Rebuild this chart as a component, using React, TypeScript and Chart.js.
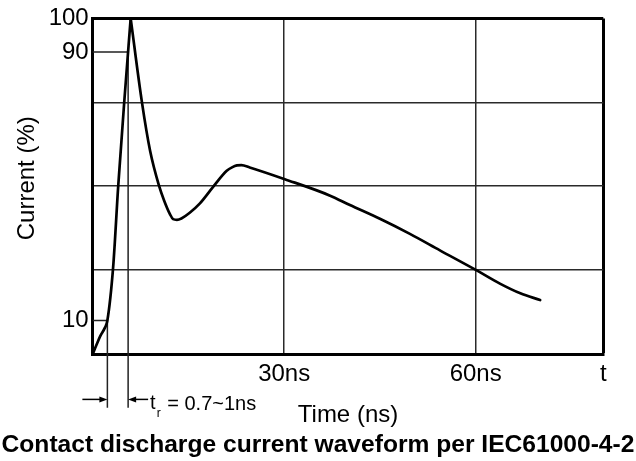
import React, { useEffect, useRef } from 'react';
import { Chart, registerables } from 'chart.js';

Chart.register(...registerables);

// ---- data ----
const timeNs = [0, 0.6, 1.2, 1.9, 2.3, 3.2, 4.0, 4.95, 5.95, 7.7, 9.0, 10.4, 11.2, 12.1, 12.6, 13.2, 13.9, 15.2, 16.8, 18.9, 21.0, 21.9, 22.6, 23.3, 24.6, 30.1, 37.2, 40.3, 45.0, 49.7, 54.4, 60.1, 63.8, 67.0, 70.1];
const currentPct = [0, 2.8, 5.4, 7.8, 10, 25.8, 50.1, 75.3, 100, 75.2, 60.5, 50.1, 45.7, 41.7, 40.2, 40.0, 40.4, 42.1, 44.9, 49.9, 54.6, 55.7, 56.2, 56.3, 55.6, 52.1, 47.2, 44.4, 40.3, 35.8, 30.9, 25.0, 21.0, 18.1, 16.1];

const yTickValues = [10, 90, 100];
const yTickLabels = ['10', '90', '100'];
const yGridValues = [25, 50, 75];
const xTickValues = [30, 60, 80];
const xTickLabels = ['30ns', '60ns', 't'];

// rise-time markers: level (%) and time (ns) where the front crosses it
const markerLevels = [10, 90];
const markerTimes = [2.3, 5.55];
const markerBottom = -16; // how far below the axis the marker lines reach (in %)
const arrowLevel = -13.5;

const chartTitle = 'Contact discharge current waveform per IEC61000-4-2';
const xTitle = 'Time (ns)';
const yTitle = 'Current (%)';
const riseLabelMain = 't';
const riseLabelSub = 'r';
const riseLabelRest = ' = 0.7~1ns';

const FONT = "'Liberation Sans', Arial, Helvetica, sans-serif";

const annotationPlugin = {
  id: 'iecAnnotations',
  afterDraw(chart: any) {
    const { ctx, chartArea, scales } = chart;
    const xs = scales.x;
    const ys = scales.y;
    ctx.save();
    // y axis title
    ctx.save();
    ctx.translate(33.5, (chartArea.top + chartArea.bottom) / 2 - 8);
    ctx.rotate(-Math.PI / 2);
    ctx.font = `24px ${FONT}`;
    ctx.fillStyle = '#000';
    ctx.textAlign = 'center';
    ctx.textBaseline = 'alphabetic';
    ctx.fillText(yTitle, 0, 0);
    ctx.restore();

    // arrows for rise time
    const ya = ys.getPixelForValue(arrowLevel);
    const x1 = xs.getPixelForValue(markerTimes[0]);
    const x2 = xs.getPixelForValue(markerTimes[1]);
    ctx.strokeStyle = '#000';
    ctx.fillStyle = '#000';
    ctx.lineWidth = 1.5;
    const arrow = (from: number, to: number) => {
      const dir = Math.sign(to - from);
      ctx.beginPath();
      ctx.moveTo(from, ya);
      ctx.lineTo(to - dir * 6, ya);
      ctx.stroke();
      ctx.beginPath();
      ctx.moveTo(to, ya);
      ctx.lineTo(to - dir * 8, ya - 3);
      ctx.lineTo(to - dir * 8, ya + 3);
      ctx.closePath();
      ctx.fill();
    };
    arrow(x1 - 25, x1);
    arrow(x2 + 20, x2);

    // label
    const tx = x2 + 22;
    const baseY = ya + 10;
    ctx.textAlign = 'left';
    ctx.textBaseline = 'alphabetic';
    ctx.font = `20px ${FONT}`;
    ctx.fillText(riseLabelMain, tx, baseY);
    const tw = ctx.measureText(riseLabelMain).width;
    ctx.font = `12px ${FONT}`;
    ctx.fillText(riseLabelSub, tx + tw + 1, baseY + 8);
    const rw = ctx.measureText(riseLabelSub).width;
    ctx.font = `20px ${FONT}`;
    ctx.fillText(riseLabelRest, tx + tw + rw + 2, baseY + 1);
    ctx.restore();
  },
};

export default function App() {
  const canvasRef = useRef<HTMLCanvasElement | null>(null);

  useEffect(() => {
    document.body.style.margin = '0';
    const canvas = canvasRef.current;
    if (!canvas) return;

    const curve = timeNs.map((t, i) => ({ x: t, y: currentPct[i] }));
    const peakIdx = currentPct.indexOf(Math.max(...currentPct));
    const rising = curve.slice(0, peakIdx + 1);
    const falling = curve.slice(peakIdx);

    const curveStyle = {
      borderColor: '#000',
      borderWidth: 2.7,
      pointRadius: 0,
      tension: 0,
      cubicInterpolationMode: 'monotone',
      fill: false,
      borderJoinStyle: 'round',
      borderCapStyle: 'round',
      order: 1,
    };

    const markerSets = markerLevels.map((lvl, i) => ({
      data: [
        { x: 0, y: lvl },
        { x: markerTimes[i], y: lvl },
        { x: markerTimes[i], y: markerBottom },
      ],
      borderColor: '#222',
      borderWidth: 1.5,
      pointRadius: 0,
      tension: 0,
      fill: false,
      clip: false as any,
      order: 2,
    }));

    const chart = new Chart(canvas, {
      type: 'line',
      data: {
        datasets: [
          { data: rising, ...curveStyle } as any,
          { data: falling, ...curveStyle } as any,
          ...markerSets,
        ],
      },
      options: {
        animation: false,
        responsive: false,
        devicePixelRatio: 1,
        layout: { padding: { left: 0, top: 16.5, right: 0, bottom: 0 } },
        font: { family: FONT },
        plugins: {
          legend: { display: false },
          tooltip: { enabled: false },
          title: {
            display: true,
            position: 'bottom',
            text: chartTitle,
            color: '#000',
            font: { family: FONT, size: 24.6, weight: 'bold' },
            padding: { top: 0, bottom: 1.4 },
          },
        },
        scales: {
          x: {
            type: 'linear',
            min: 0,
            max: 80,
            afterBuildTicks: (axis: any) => {
              axis.ticks = [0, ...xTickValues].map((v) => ({ value: v }));
            },
            afterFit: (scale: any) => {
              scale.height = 76;
            },
            ticks: {
              autoSkip: false,
              maxRotation: 0,
              padding: 6,
              color: '#000',
              font: { family: FONT, size: 24 },
              callback: (v: any) => {
                const i = xTickValues.indexOf(Number(v));
                return i >= 0 ? xTickLabels[i] : '';
              },
            },
            grid: {
              drawTicks: false,
              color: (c: any) => {
                const v = c.tick?.value;
                if (v === 80) return '#000';
                if (v === 30 || v === 60) return '#2a2a2a';
                return 'rgba(0,0,0,0)';
              },
              lineWidth: (c: any) => (c.tick?.value === 80 ? 3 : 1.5),
            },
            border: { display: true, color: '#000', width: 3 },
            title: {
              display: true,
              text: xTitle,
              color: '#000',
              font: { family: FONT, size: 24 },
              padding: { top: 0, bottom: 0 },
            },
          },
          y: {
            type: 'linear',
            min: 0,
            max: 100,
            afterBuildTicks: (axis: any) => {
              axis.ticks = [0, ...yGridValues, ...yTickValues]
                .sort((a, b) => a - b)
                .map((v) => ({ value: v }));
            },
            afterFit: (scale: any) => {
              scale.width = 92.7;
            },
            ticks: {
              autoSkip: false,
              padding: 4,
              color: '#000',
              font: { family: FONT, size: 24 },
              callback: (v: any) => {
                const i = yTickValues.indexOf(Number(v));
                return i >= 0 ? yTickLabels[i] : '';
              },
            },
            grid: {
              drawTicks: false,
              color: (c: any) => {
                const v = c.tick?.value;
                if (v === 100) return '#000';
                if (yGridValues.includes(v)) return '#2a2a2a';
                return 'rgba(0,0,0,0)';
              },
              lineWidth: (c: any) => (c.tick?.value === 100 ? 3 : 1.5),
            },
            border: { display: true, color: '#000', width: 3 },
          },
          yRight: {
            type: 'linear',
            position: 'right',
            display: true,
            min: 0,
            max: 100,
            afterFit: (scale: any) => {
              scale.width = 32.7;
            },
            ticks: { display: false },
            grid: { display: false, drawTicks: false },
            border: { display: false },
          },
        },
      } as any,
      plugins: [annotationPlugin],
    });

    return () => chart.destroy();
  }, []);

  return (
    <div style={{ width: 636, height: 461, background: '#fff' }}>
      <canvas ref={canvasRef} width={636} height={461} style={{ display: 'block' }} />
    </div>
  );
}
